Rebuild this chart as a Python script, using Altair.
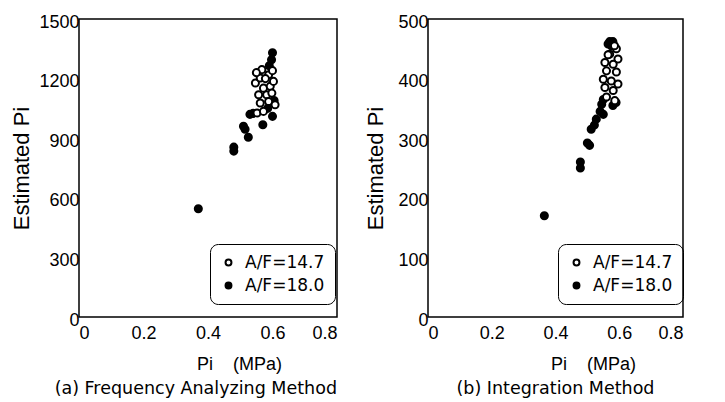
import altair as alt
import pandas as pd

# Panel (a) Frequency Analyzing Method
a_open_x = [0.547, 0.562, 0.588, 0.572, 0.593, 0.557, 0.582, 0.598, 0.562, 0.588, 0.552, 0.572, 0.603, 0.608, 0.567, 0.550, 0.600, 0.578]
a_open_y = [1178, 1203, 1219, 1152, 1161, 1119, 1119, 1127, 1077, 1085, 1027, 1035, 1186, 1068, 1245, 1230, 1240, 1200]
a_fill_x = [0.37, 0.48, 0.48, 0.51, 0.515, 0.525, 0.53, 0.54, 0.57, 0.60, 0.597, 0.59, 0.605, 0.585, 0.60]
a_fill_y = [545, 835, 855, 960, 945, 905, 1020, 1025, 968, 1330, 1295, 1265, 1090, 1050, 1010]

# Panel (b) Integration Method
b_open_x = [0.591, 0.570, 0.596, 0.555, 0.581, 0.560, 0.591, 0.550, 0.575, 0.596, 0.555, 0.581, 0.560, 0.586, 0.565, 0.585]
b_open_y = [450, 441, 433, 427, 424, 413, 411, 399, 396, 391, 385, 380, 369, 363, 440, 455]
b_fill_x = [0.365, 0.478, 0.478, 0.50, 0.507, 0.512, 0.522, 0.528, 0.54, 0.545, 0.55, 0.57, 0.575, 0.565, 0.58, 0.59, 0.55, 0.58]
b_fill_y = [170, 260, 250, 292, 288, 315, 322, 332, 345, 357, 340, 462, 455, 458, 355, 360, 365, 462]

labels = ["A/F=14.7", "A/F=18.0"]
FONT = "Liberation Sans"
WIDE = "DejaVu Sans"
XTITLE = "Pi\u00a0\u00a0\u00a0\u00a0(MPa)"


def frame(ox, oy, fx, fy):
    rows = []
    for x, y in zip(fx, fy):
        rows.append({"pi": x, "est": y, "af": labels[1], "o": 0})
    for x, y in zip(ox, oy):
        rows.append({"pi": x, "est": y, "af": labels[0], "o": 1})
    return pd.DataFrame(rows)


def panel(df, ymax, ystep, caption, w, xtx, ytp, lx, ly, anchor):
    return alt.Chart(df).mark_point(
        shape="circle", filled=True, stroke="black", strokeWidth=2, size=50, opacity=1
    ).encode(
        x=alt.X("pi:Q", scale=alt.Scale(domain=[0, 0.8], nice=False),
                axis=alt.Axis(values=[0, 0.2, 0.4, 0.6, 0.8], title=XTITLE,
                              format=".1~f", titleX=xtx, titleFontSize=18,
                              labelPadding=7, titlePadding=13)),
        y=alt.Y("est:Q", scale=alt.Scale(domain=[0, ymax], nice=False),
                axis=alt.Axis(values=list(range(0, ymax + 1, ystep)), title="Estimated Pi",
                              format="d", titleFontSize=22, labelPadding=0,
                              titlePadding=ytp, labelOffset=3)),
        fill=alt.Fill("af:N", scale=alt.Scale(domain=labels, range=["white", "black"]),
                      legend=alt.Legend(title=None, orient="none", legendX=lx, legendY=ly,
                                        strokeColor="black", cornerRadius=8, padding=10,
                                        labelFontSize=17, labelFont=WIDE, labelColor="black",
                                        labelOffset=8,
                                        symbolStrokeColor="black", symbolStrokeWidth=2,
                                        symbolSize=35, rowPadding=5)),
        order="o:Q",
    ).properties(width=w, height=298,
                 title=alt.TitleParams(caption, orient="bottom", fontSize=17.5, font=WIDE,
                                       fontWeight="normal", color="black", offset=7,
                                       anchor=anchor))


ca = panel(frame(a_open_x, a_open_y, a_fill_x, a_fill_y), 1500, 300,
           "(a) Frequency Analyzing Method", 258, 160, 5, 131, 225, "end")
cb = panel(frame(b_open_x, b_open_y, b_fill_x, b_fill_y), 500, 100,
           "(b) Integration Method", 255, 165, 10, 130, 225, "middle")

chart = alt.hconcat(
    ca, cb, spacing=26, background="white",
    padding={"left": 2, "top": 4, "right": 2, "bottom": 0}
).resolve_scale(fill="independent").resolve_legend(fill="independent"
).configure_view(stroke="black", strokeWidth=1.5).configure_axis(
    grid=False, ticks=False, domain=False, labelFont=FONT, titleFont=FONT,
    labelFontSize=18, labelColor="black", titleColor="black",
    titleFontWeight="normal"
)

chart.save("out.html", embed_options={"renderer": "svg", "actions": False})
